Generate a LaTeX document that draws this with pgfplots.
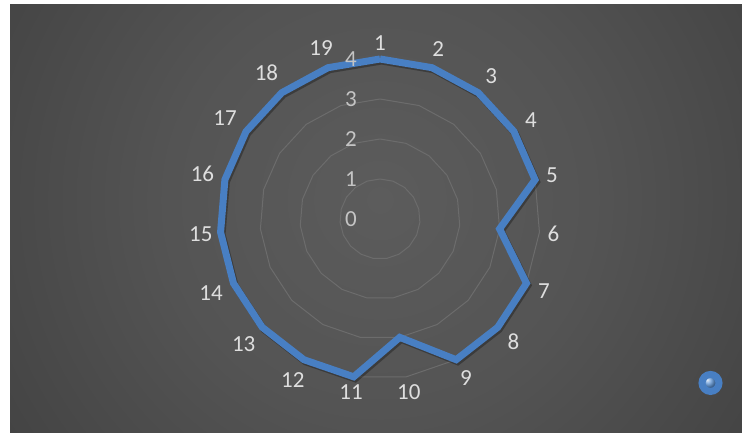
\documentclass[border=0pt]{standalone}
\usepackage{pgfplots}
\pgfplotsset{compat=1.18}
\usepgfplotslibrary{polar}
\usepackage{pgfplotstable}
\usepackage{fontspec}
\setmainfont{Carlito}
\definecolor{serie}{RGB}{72,127,195}
\definecolor{ballc}{RGB}{90,145,210}
\definecolor{gridc}{RGB}{108,108,108}
\definecolor{catlab}{RGB}{222,222,222}
\definecolor{ticklab}{RGB}{196,196,196}
\definecolor{bgA}{RGB}{92,92,92}
\definecolor{bgB}{RGB}{84,84,84}
\definecolor{bgC}{RGB}{66,66,66}
\definecolor{bgD}{RGB}{45,45,45}
\definecolor{bgE}{RGB}{37,37,37}
\pgfdeclareradialshading{bgshade}{\pgfpoint{0bp}{0bp}}{color(0bp)=(bgA); color(10bp)=(bgB); color(22bp)=(bgC); color(35bp)=(bgD); color(42bp)=(bgE); color(50bp)=(bgE)}

\pgfplotstableread{
k v
1 4
2 4
3 4
4 4
5 4
6 3
7 4
8 4
9 4
10 3
11 4
12 4
13 4
14 4
15 4
16 4
17 4
18 4
19 4
20 4
}\radar

\begin{document}
\begin{tikzpicture}
\fill[white] (0,0) rectangle (742bp,433bp);
\begin{scope}
\clip (10bp,0bp) rectangle (742bp,428bp);
\shade[shading=bgshade] (-150bp,-297bp) rectangle (910bp,763bp);
\end{scope}
\begin{polaraxis}[
  at={(380bp,214bp)}, anchor=origin,
  scale only axis, width=320bp, height=320bp,
  xmin=-260, xmax=100, ymin=0, ymax=4,
  clip=false,
  axis line style={draw=none},
  grid=none,
  ytick=\empty,
  xtick={90,71.0526,52.1053,33.1579,14.2105,-4.7368,-23.6842,-42.6316,-61.5789,-80.5263,-99.4737,-118.4211,-137.3684,-156.3158,-175.2632,-194.2105,-213.1579,-232.1053,-251.0526},
  xticklabels={{1},{2},{3},{4},{5},{6},{7},{8},{9},{10},{11},{12},{13},{14},{15},{16},{17},{18},{19}},
  major tick length=0pt,
  tick style={draw=none},
  xticklabel style={font=\fontsize{23bp}{26bp}\selectfont, text=catlab, inner sep=8bp},
  legend style={at={(axis cs:-26.35,9.235)}, anchor=center, draw=none, fill=none, inner sep=0pt, outer sep=0pt, nodes={inner sep=0pt}},
]
\pgfplotsinvokeforeach{1,2,3,4}{
  \addplot[gridc, line width=1bp, forget plot] table[x expr={90-(\thisrow{k}-1)*360/19}, y expr=#1] {\radar};
}
\addplot[black, opacity=0.3, line width=7bp, line join=miter, xshift=1.5bp, yshift=-2bp, forget plot] table[x expr={90-(\thisrow{k}-1)*360/19}, y=v] {\radar};
\addplot[serie, line width=7bp, line join=miter,
  legend image code/.code={\shade[ball color=ballc] (0bp,0bp) circle (8.5bp);}]
  table[x expr={90-(\thisrow{k}-1)*360/19}, y=v] {\radar};
\addlegendentry{}
\pgfplotsinvokeforeach{0,1,2,3,4}{
  \node[anchor=east, inner sep=0pt, xshift=-23bp, text=ticklab, font=\fontsize{23bp}{26bp}\selectfont] at (axis cs:90,#1) {#1};
}
\end{polaraxis}
\pgfresetboundingbox
\path[use as bounding box] (0,0) rectangle (742bp,433bp);
\end{tikzpicture}
\end{document}
